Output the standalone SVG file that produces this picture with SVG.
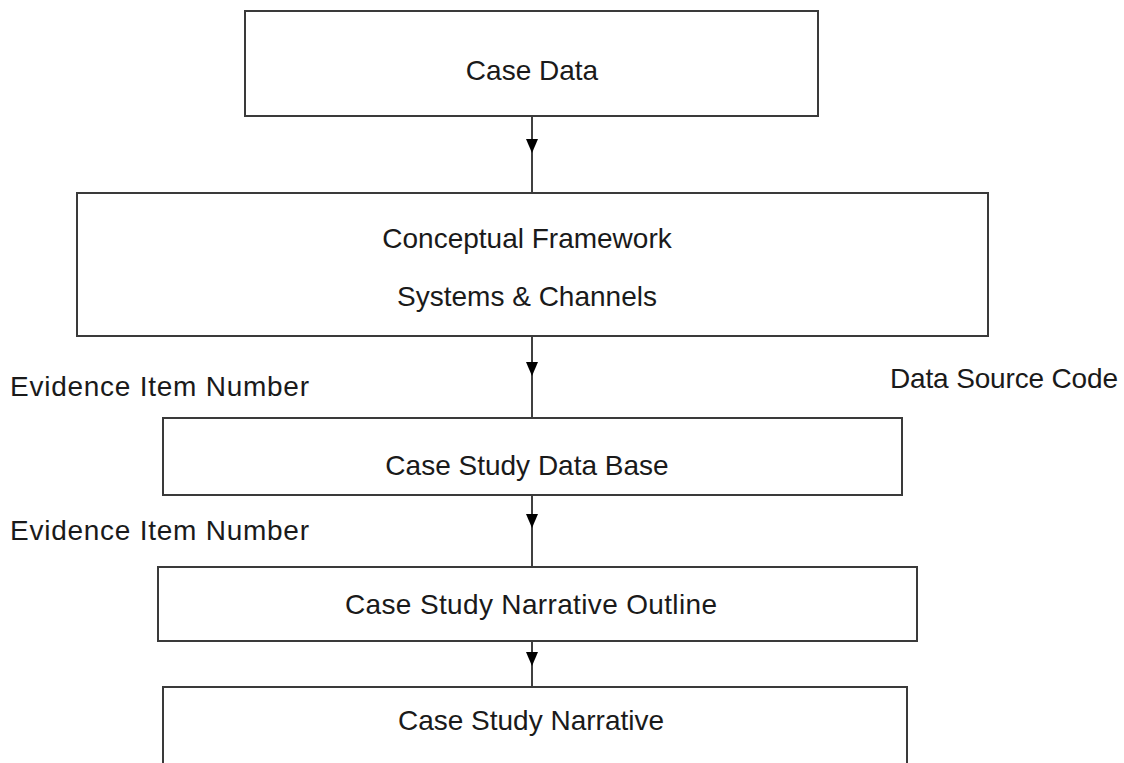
<svg xmlns="http://www.w3.org/2000/svg" width="1124" height="763" viewBox="0 0 1124 763">
<style>
.box{fill:#fff;stroke:#3a3a3a;stroke-width:2}
.t{font-family:"Liberation Sans",Arial,sans-serif;font-size:28px;fill:#1a1a1a}
.m{text-anchor:middle}
.c{stroke:#000;stroke-width:1.5;fill:none}
.h{fill:#000}
</style>
<rect width="1124" height="763" fill="#fff"/>
<g id="connectors">
<line class="c" x1="532" y1="116" x2="532" y2="193"/>
<polygon class="h" points="526,139 538,139 532,153"/>
<line class="c" x1="532" y1="336" x2="532" y2="418"/>
<polygon class="h" points="526,362 538,362 532,376"/>
<line class="c" x1="532" y1="495" x2="532" y2="567"/>
<polygon class="h" points="526,514 538,514 532,528"/>
<line class="c" x1="532" y1="641" x2="532" y2="687"/>
<polygon class="h" points="526,652 538,652 532,666"/>
</g>
<g id="case-data">
<rect class="box" x="245" y="11" width="573" height="105"/>
<text class="t m" x="532" y="80">Case Data</text>
</g>
<g id="conceptual-framework">
<rect class="box" x="77" y="193" width="911" height="143"/>
<text class="t m" x="527" y="248">Conceptual Framework</text>
<text class="t m" x="527" y="306">Systems &amp; Channels</text>
</g>
<g id="case-study-data-base">
<rect class="box" x="163" y="418" width="739" height="77"/>
<text class="t m" x="527" y="475">Case Study Data Base</text>
</g>
<g id="narrative-outline">
<rect class="box" x="158" y="567" width="759" height="74"/>
<text class="t m" x="531" y="614" textLength="372" lengthAdjust="spacing">Case Study Narrative Outline</text>
</g>
<g id="narrative">
<rect class="box" x="163" y="687" width="744" height="100"/>
<text class="t m" x="531" y="730">Case Study Narrative</text>
</g>
<g id="labels">
<text class="t" x="10" y="396" textLength="299" lengthAdjust="spacing">Evidence Item Number</text>
<text class="t" x="10" y="540" textLength="299" lengthAdjust="spacing">Evidence Item Number</text>
<text class="t" x="890" y="388" textLength="228" lengthAdjust="spacing">Data Source Code</text>
</g>
</svg>
